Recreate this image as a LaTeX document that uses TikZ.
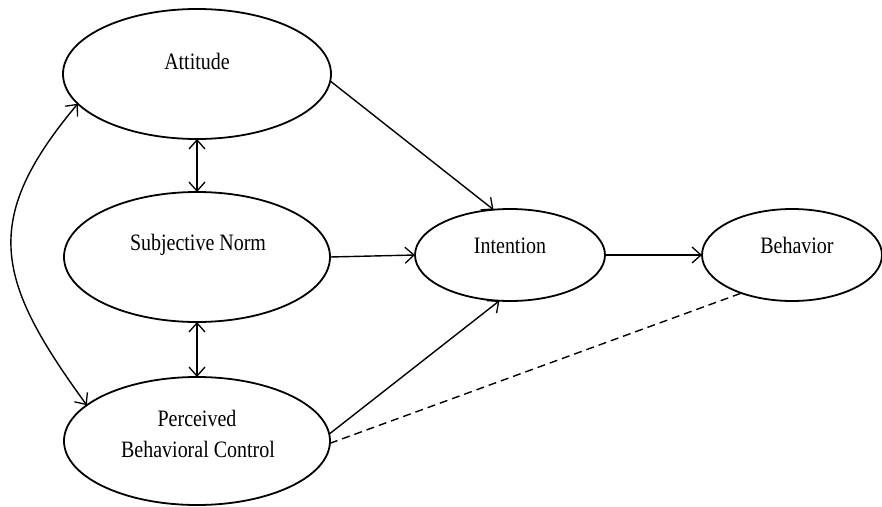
\documentclass[tikz,border=0pt]{standalone}
\usepackage{fontspec}
\setmainfont{Liberation Serif}[FakeStretch=0.85]
\usetikzlibrary{shapes.geometric,arrows.meta}
\begin{document}
\begin{tikzpicture}[x=1pt,y=-1pt,
  construct/.style={draw,ellipse,line width=1.8pt,inner sep=0pt,outer sep=0pt},
  lbl/.style={anchor=base,inner sep=0pt,font=\fontsize{23.5}{28}\selectfont},
  conn/.style={line width=1.4pt,-{Straight Barb[length=9pt,width=16pt,line width=1.3pt]}},
  both/.style={line width=1.4pt,{Straight Barb[length=9pt,width=16pt,line width=1.3pt]}-{Straight Barb[length=9pt,width=16pt,line width=1.3pt]}},
  dashline/.style={line width=1.4pt,dash pattern=on 8pt off 5pt}]
\useasboundingbox (0,0) rectangle (882,506);
\node[construct,minimum width=268pt,minimum height=130pt] (att) at (197,74) {};
\node[construct,minimum width=266pt,minimum height=130pt] (sn) at (197,257) {};
\node[construct,minimum width=266pt,minimum height=128pt] (pbc) at (197,441) {};
\node[construct,minimum width=190pt,minimum height=92pt] (int) at (510,255) {};
\node[construct,minimum width=180pt,minimum height=92pt] (beh) at (792,255) {};
\node[lbl] (attT) at (197,69) {Attitude};
\node[lbl] (snT) at (198,250) {Subjective Norm};
\node[lbl] (pbcT1) at (197,426) {Perceived};
\node[lbl] (pbcT2) at (198,457) {Behavioral Control};
\node[lbl] (intT) at (510,253) {Intention};
\node[lbl] (behT) at (797,253) {Behavior};
\draw[conn] (att.-3) -- (int.110);
\draw[conn] (sn.east) -- (int.west);
\draw[conn] (pbc.3.5) -- (int.-103);
\draw[conn] (int.east) -- (beh.west);
\draw[dashline] (pbc.-1) -- (beh.-143.5);
\draw[both] (att.south) -- (sn.north);
\draw[both] (sn.south) -- (pbc.north);
\draw[both] (att.-166.7) to[out=230,in=126,looseness=1.3] (pbc.162.4);
\end{tikzpicture}
\end{document}
